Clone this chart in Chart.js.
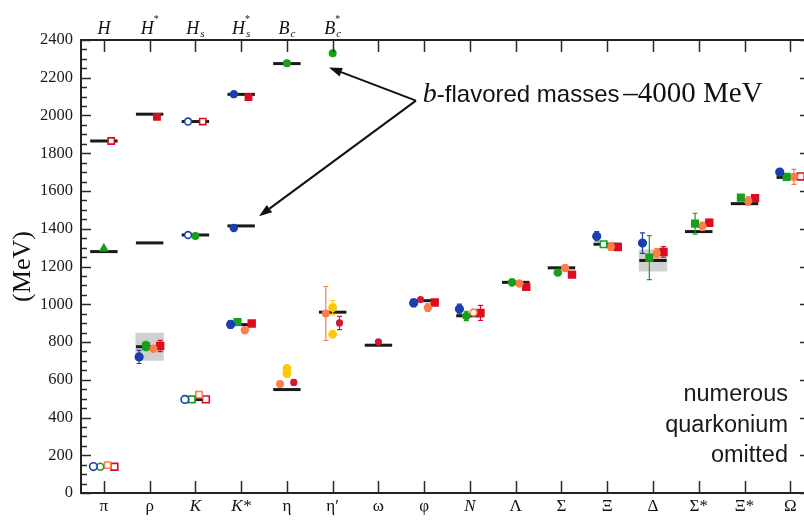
<!DOCTYPE html>
<html><head><meta charset="utf-8">
<script src="https://cdn.jsdelivr.net/npm/chart.js@4.4.1/dist/chart.umd.min.js"></script>
<style>html,body{margin:0;padding:0;background:#fff;overflow:hidden}</style>
</head><body>
<canvas id="c" width="804" height="520"></canvas>
<script>
// ---------- data ----------
const categories = ['π','ρ','K','K*','η','η′','ω','φ','N','Λ','Σ','Ξ','Δ','Σ*','Ξ*','Ω'];
const topLabels  = ['H','H*','H_s','H_s*','B_c','B_c*'];
const yTicks     = [0,200,400,600,800,1000,1200,1400,1600,1800,2000,2200,2400];

// experiment (MeV) and resonance widths (grey boxes)
const exptMass  = [139, 775, 495, 892, 548, 958, 783, 1019, 939, 1116, 1193, 1318, 1232, 1385, 1533, 1672];
const exptWidth = [0, 148, 0, 0, 0, 0, 0, 0, 0, 0, 0, 0, 116, 0, 0, 0];

// lattice results, light hadrons
const blueMass   = [140, 721, 496, 893, null, null, null, 1007, 975, null, null, 1360, 1324, null, null, 1700];
const blueErr    = [0, 35, 0, 20, 0, 0, 0, 20, 26, 0, 0, 25, 54, 0, 0, 8];
const greenMass  = [139, 779, 496, 906, null, null, null, null, 938, 1116, 1168, 1318, 1247, 1427, 1565, 1675];
const greenErr   = [0, 25, 0, 10, 0, 0, 0, 0, 25, 12, 12, 0, 117, 55, 15, 10];
const orangeMass = [148, 764, 521, 862, null, null, null, 982, 956, 1110, 1192, 1305, 1270, 1413, 1547, 1675];
const orangeErr  = [0, 10, 0, 12, 0, 0, 0, 20, 0, 15, 15, 20, 25, 22, 22, 40];
const redMass    = [139, 779, 496, 898, null, null, null, 1009, 954, 1092, 1157, 1303, 1277, 1432, 1562, 1677];
const redErr     = [0, 30, 0, 8, 0, 0, 0, 8, 40, 12, 10, 10, 28, 18, 10, 0];
const blueInputs   = [0, 2];
const greenInputs  = [0, 2, 11];
const orangeInputs = [0, 2, 8];
const redInputs    = [0, 2, 15];

// eta / eta' / omega / phi extra results
const etaOrangeMass = [null, null, null, null, 577, 951];
const etaOrangeErr  = [0, 0, 0, 0, 8, 143];
const yellowAMass   = [null, null, null, null, 660, 982];
const yellowAErr    = [0, 0, 0, 0, 10, 38];
const yellowBMass   = [null, null, null, null, 633, 841];
const yellowBErr    = [0, 0, 0, 0, 8, 8];
const etaRedMass    = [null, null, null, null, 586, 901];
const etaRedErr     = [0, 0, 0, 0, 15, 35];
const omegaRedMass  = [null, null, null, null, null, null, 801];
const phiRedMass    = [null, null, null, null, null, null, null, 1025];

// heavy-light mesons: charm (actual) and bottom (minus 4000 MeV)
const charmExpt   = [1865, 2007, 1968, 2112, null, null];
const bottomExpt  = [1279, 1325, 1367, 1415, 2275, null];
const blueCharm   = [null, null, 1968, 2113, null, null];
const redCharm    = [1865, 1993, 1968, 2097, null, null];
const blueBottom  = [null, null, 1367, 1404, null, null];
const greenBottom = [1295, null, 1361, null, 2277, 2330];
const blueCharmInputs = [2], redCharmInputs = [0, 2], blueBottomInputs = [2];

// ---------- styling ----------
const C = {blue:'#1c3fae', green:'#17a01a', orange:'#ff7d4a', red:'#dc0c20', yellow:'#ffc800', dred:'#d21a34', black:'#1a1a1a'};
const SERIF = '"Liberation Serif","Times New Roman",serif';
const SANS  = '"Liberation Sans",Arial,Helvetica,sans-serif';

function series(values, errs, offset, color, opt) {
  opt = opt || {};
  const inputs = opt.inputs || [];
  return {
    data: values.map((v, i) => v == null ? null : {x: i + offset, y: v, i}).filter(Boolean),
    err: errs || null,
    errColor: color,
    pointStyle: opt.style || 'circle',
    pointRadius: opt.radius || 3.6,
    pointBorderWidth: 1.6,
    pointBorderColor: color,
    pointBackgroundColor: ctx => (ctx.raw && inputs.includes(ctx.raw.i)) ? '#ffffff' : color
  };
}

const greenRound = [0, 8, 9, 10];
const greenSet = series(greenMass, greenErr, -0.08, C.green, {inputs: greenInputs, radius: 4.2});
greenSet.pointStyle = ctx => (ctx.raw && greenRound.includes(ctx.raw.i)) ? 'circle' : 'rect';
greenSet.pointRadius = ctx => (ctx.raw && greenRound.includes(ctx.raw.i)) ? 3.5 : 4.6;

const orangeSquares = [0, 2];
const orangeSet = series(orangeMass, orangeErr, 0.08, C.orange, {inputs: orangeInputs, radius: 3.4});
orangeSet.pointStyle = ctx => (ctx.raw && orangeSquares.includes(ctx.raw.i)) ? 'rect' : 'circle';
orangeSet.pointRadius = ctx => (ctx.raw && orangeSquares.includes(ctx.raw.i)) ? 4.4 : 3.4;

const gb = series(greenBottom, null, 0, C.green, {radius: 3.2});
gb.pointStyle = ctx => (ctx.raw && ctx.raw.i === 0) ? 'triangle' : 'circle';
gb.pointRadius = ctx => (ctx.raw && ctx.raw.i === 0) ? 4.2 : 3.2;

const datasets = [
  series(blueMass, blueErr, -0.23, C.blue, {inputs: blueInputs, radius: 3.8}),
  greenSet,
  orangeSet,
  series(redMass, redErr, 0.23, C.red, {inputs: redInputs, style: 'rect', radius: 4.8}),
  series(etaOrangeMass, etaOrangeErr, -0.15, C.orange, {radius: 3.2}),
  series(yellowAMass, yellowAErr, 0, C.yellow, {radius: 3.6}),
  series(yellowBMass, yellowBErr, 0, C.yellow, {radius: 3.6}),
  series(etaRedMass, etaRedErr, 0.15, C.dred, {radius: 2.8}),
  series(omegaRedMass, null, 0, C.dred, {radius: 2.8}),
  series(phiRedMass, null, -0.08, C.dred, {radius: 2.8}),
  series(blueCharm, null, -0.16, C.blue, {inputs: blueCharmInputs, radius: 3.4}),
  series(redCharm, null, 0.16, C.red, {inputs: redCharmInputs, style: 'rect', radius: 4.4}),
  series(blueBottom, null, -0.16, C.blue, {inputs: blueBottomInputs, radius: 3.4}),
  gb
];

// ---------- decorations plugin ----------
const decor = {
  id: 'decor',
  beforeDatasetsDraw(chart) {
    const ctx = chart.ctx, xs = chart.scales.x, ys = chart.scales.y;
    const ca = chart.chartArea;
    ctx.save();
    ctx.beginPath(); ctx.rect(ca.left, ca.top, ca.right - ca.left, ca.bottom - ca.top); ctx.clip();
    // grey width boxes
    ctx.fillStyle = 'rgba(200,200,200,0.85)';
    exptWidth.forEach((w, i) => {
      if (!w) return;
      const x0 = xs.getPixelForValue(i - 0.31), x1 = xs.getPixelForValue(i + 0.31);
      const y0 = ys.getPixelForValue(exptMass[i] + w / 2), y1 = ys.getPixelForValue(exptMass[i] - w / 2);
      ctx.fillRect(x0, y0, x1 - x0, y1 - y0);
    });
    // experimental lines
    ctx.strokeStyle = C.black; ctx.lineWidth = 3;
    const hl = (i, v) => {
      if (v == null) return;
      const y = ys.getPixelForValue(v);
      ctx.beginPath(); ctx.moveTo(xs.getPixelForValue(i - 0.3), y); ctx.lineTo(xs.getPixelForValue(i + 0.3), y); ctx.stroke();
    };
    exptMass.forEach((v, i) => hl(i, v));
    charmExpt.forEach((v, i) => hl(i, v));
    bottomExpt.forEach((v, i) => hl(i, v));
    // error bars
    ctx.lineWidth = 1.2;
    chart.data.datasets.forEach(ds => {
      if (!ds.err) return;
      ctx.strokeStyle = ds.errColor;
      ds.data.forEach(p => {
        const e = ds.err[p.i];
        if (!e) return;
        const x = xs.getPixelForValue(p.x);
        const ya = ys.getPixelForValue(p.y + e), yb = ys.getPixelForValue(p.y - e);
        ctx.beginPath();
        ctx.moveTo(x, ya); ctx.lineTo(x, yb);
        ctx.moveTo(x - 2.5, ya); ctx.lineTo(x + 2.5, ya);
        ctx.moveTo(x - 2.5, yb); ctx.lineTo(x + 2.5, yb);
        ctx.stroke();
      });
    });
    ctx.restore();
  },
  afterDraw(chart) {
    const ctx = chart.ctx, xs = chart.scales.x, ys = chart.scales.y;
    const ca = chart.chartArea;
    ctx.save();
    // inward tick marks
    ctx.strokeStyle = '#2a2a2a'; ctx.lineWidth = 1.5;
    ctx.beginPath();
    for (let v = 0; v <= 2400; v += 50) {
      const y = Math.round(ys.getPixelForValue(v)) + 0.5;
      const len = v % 200 === 0 ? 10 : 6;
      ctx.moveTo(ca.left, y); ctx.lineTo(ca.left + len, y);
      if (v % 200 === 0) { ctx.moveTo(ca.right, y); ctx.lineTo(ca.right - 4, y); }
    }
    categories.forEach((c, i) => {
      const x = Math.round(xs.getPixelForValue(i)) + 0.5;
      ctx.moveTo(x, ca.bottom); ctx.lineTo(x, ca.bottom - 12);
      ctx.moveTo(x, ca.top); ctx.lineTo(x, ca.top + 12);
    });
    ctx.stroke();

    // top labels (heavy-light mesons) with sub/superscripts
    ctx.fillStyle = '#111';
    ctx.textBaseline = 'alphabetic';
    topLabels.forEach((lab, i) => {
      const m = lab.match(/^([A-Z])(?:_([a-z]))?(\*)?$/);
      const main = m[1], sub = m[2] || '', sup = m[3] || '';
      ctx.font = 'italic 18px ' + SERIF;
      const wMain = ctx.measureText(main).width;
      ctx.font = 'italic 11px ' + SERIF;
      const wSub = sub ? ctx.measureText(sub).width + 1 : 0;
      ctx.font = '10px ' + SERIF;
      const wSup = sup ? ctx.measureText(sup).width : 0;
      const w = wMain + Math.max(wSub, wSup);
      const cx = xs.getPixelForValue(i);
      const x0 = cx - w / 2;
      ctx.textAlign = 'left';
      ctx.font = 'italic 18px ' + SERIF;
      ctx.fillText(main, x0, 34);
      if (sub) { ctx.font = 'italic 11px ' + SERIF; ctx.fillText(sub, x0 + wMain + 1, 37); }
      if (sup) { ctx.font = '10px ' + SERIF; ctx.fillText(sup, x0 + wMain, 22); }
    });

    // annotation: arrows
    const P = (x, y) => [xs.getPixelForValue(x), ys.getPixelForValue(y)];
    const vtx = P(6.82, 2079);
    const tips = [P(4.92, 2254), P(3.39, 1466)];
    ctx.strokeStyle = '#111'; ctx.fillStyle = '#111'; ctx.lineWidth = 2;
    tips.forEach(t => {
      const ang = Math.atan2(t[1] - vtx[1], t[0] - vtx[0]);
      const L = 13, H = 4.5;
      const bx = t[0] - L * Math.cos(ang), by = t[1] - L * Math.sin(ang);
      ctx.beginPath(); ctx.moveTo(vtx[0], vtx[1]); ctx.lineTo(bx, by); ctx.stroke();
      ctx.beginPath();
      ctx.moveTo(t[0], t[1]);
      ctx.lineTo(bx + H * Math.sin(ang), by - H * Math.cos(ang));
      ctx.lineTo(bx - H * Math.sin(ang), by + H * Math.cos(ang));
      ctx.closePath(); ctx.fill();
    });
    // annotation text
    const tp = P(6.97, 2069);
    let tx = tp[0];
    ctx.textAlign = 'left'; ctx.fillStyle = '#111';
    ctx.font = 'italic 28px ' + SERIF; ctx.fillText('b', tx, tp[1]); tx += ctx.measureText('b').width;
    ctx.font = '24px ' + SANS; ctx.fillText('-flavored masses ', tx, tp[1]); tx += ctx.measureText('-flavored masses ').width;
    ctx.font = '29px ' + SERIF; ctx.fillText('–4000 MeV', tx - 3, tp[1]);

    ctx.font = '23.5px ' + SANS; ctx.textAlign = 'right'; ctx.fillStyle = '#1a1a1a';
    const q = xs.getPixelForValue(14.95);
    ctx.fillText('numerous', q, ys.getPixelForValue(487));
    ctx.fillText('quarkonium', q, ys.getPixelForValue(323));
    ctx.fillText('omitted', q, ys.getPixelForValue(164));
    ctx.restore();
  }
};

const italicIdx = [2, 3, 8];
const noPad = s => { s.paddingLeft = 0; s.paddingRight = 0; s.paddingTop = 0; s.paddingBottom = 0; };

new Chart(document.getElementById('c'), {
  type: 'scatter',
  data: {datasets},
  options: {
    responsive: false,
    animation: false,
    layout: {padding: 0, autoPadding: false},
    plugins: {legend: {display: false}, tooltip: {enabled: false}},
    scales: {
      x: {
        type: 'linear', position: 'bottom', min: -0.5, max: 15.3,
        afterBuildTicks: s => { s.ticks = categories.map((c, i) => ({value: i})); },
        afterFit: s => { s.height = 27; noPad(s); },
        grid: {display: false, drawTicks: false},
        border: {display: true, color: '#222', width: 2},
        ticks: {
          autoSkip: false, maxRotation: 0, padding: 3, color: '#111',
          callback: v => categories[v],
          font: ctx => ({family: SERIF, size: 17, style: italicIdx.includes(ctx.index) ? 'italic' : 'normal'})
        }
      },
      xt: {
        type: 'linear', position: 'top', min: -0.5, max: 15.3,
        afterFit: s => { s.height = 40; noPad(s); },
        grid: {display: false, drawTicks: false},
        border: {display: true, color: '#222', width: 2},
        ticks: {display: false}
      },
      y: {
        type: 'linear', position: 'left', min: 0, max: 2400,
        afterBuildTicks: s => { s.ticks = yTicks.map(v => ({value: v})); },
        afterFit: s => { s.width = 81; noPad(s); },
        grid: {display: false, drawTicks: false},
        border: {display: true, color: '#222', width: 2},
        ticks: {padding: 8, color: '#1a1a1a', font: {family: SERIF, size: 16.5}, callback: v => String(v)},
        title: {display: true, text: '(MeV)', color: '#111', font: {family: SERIF, size: 26}, padding: {top: 8, bottom: 0}}
      }
    }
  },
  plugins: [decor]
});
</script>
</body></html>
